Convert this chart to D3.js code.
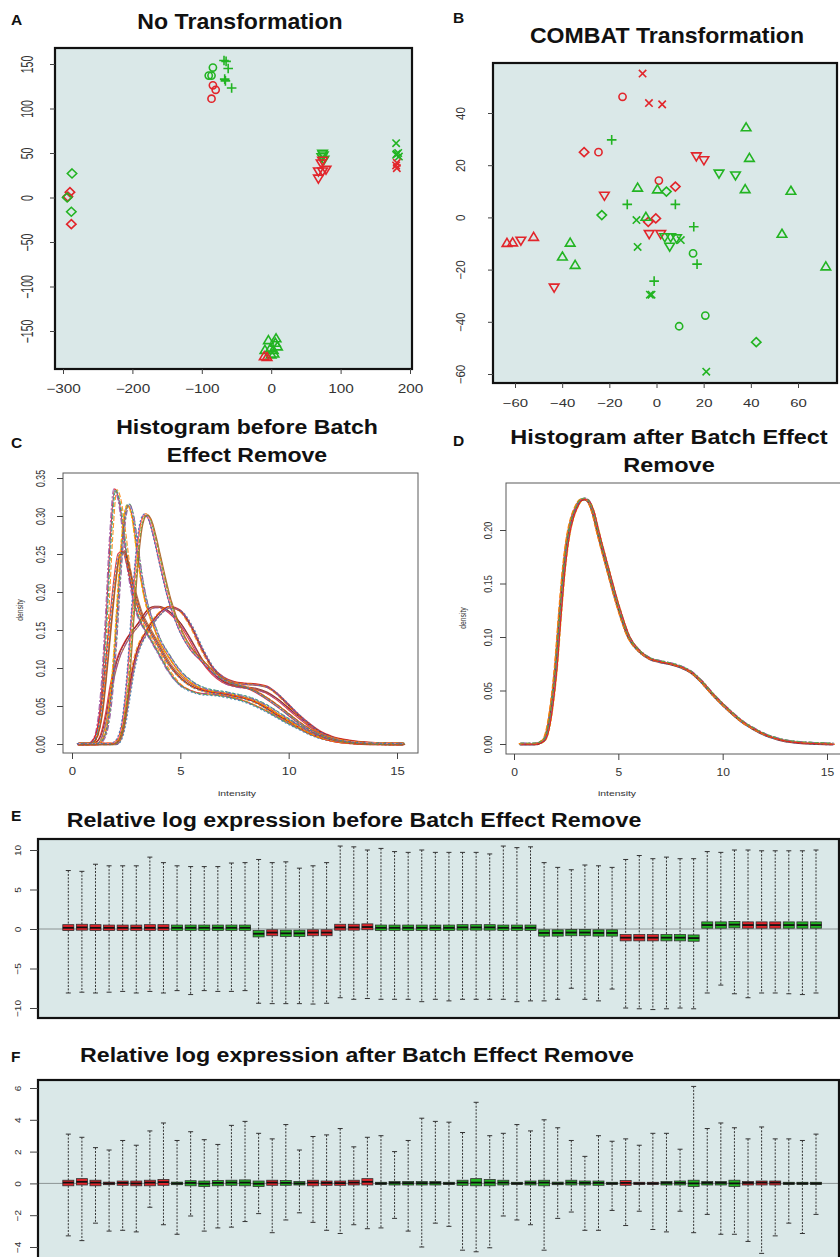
<!DOCTYPE html>
<html lang="en">
<head>
<meta charset="utf-8">
<title>Batch effect removal</title>
<script src="https://cdn.jsdelivr.net/npm/d3@7"></script>
<style>
  body { margin: 0; background: #fff; }
  text { font-family: "Liberation Sans", Arial, sans-serif; }
  .ttl { font-weight: bold; fill: #111; }
  .letter { font-weight: bold; fill: #111; font-size: 15.5px; }
  .lab { fill: #333; }
</style>
</head>
<body>
<svg id="fig" width="840" height="1257"></svg>
<script>
// ---------- data ----------
// A: PCA, no transformation   [x, y, group, shape]
var rawPca = [
  [-287, 27, "g", "diamond"], [-290, 6, "r", "diamond"], [-293, 1, "r", "diamond"],
  [-294, 0, "g", "diamond"], [-288, -16, "g", "diamond"], [-288, -30, "r", "diamond"],
  [-84, 146, "g", "circle"], [-90, 137, "g", "circle"], [-86, 137, "g", "circle"],
  [-84, 126, "r", "circle"], [-80, 121, "r", "circle"], [-86, 111, "r", "circle"],
  [-68, 154, "g", "plus"], [-65, 153, "g", "plus"], [-62, 145, "g", "plus"],
  [-67, 133, "g", "plus"], [-66, 131, "g", "plus"], [-57, 123, "g", "plus"],
  [-4, -160, "g", "up"], [7, -158, "g", "up"], [9, -167, "g", "up"], [-1, -169, "g", "up"],
  [3, -171, "g", "up"], [-9, -171, "g", "up"], [0, -176, "g", "up"], [6, -163, "g", "up"],
  [4, -175, "g", "up"], [-10, -178, "r", "up"], [-6, -179, "r", "up"],
  [74, 49, "g", "down"], [75, 47, "g", "down"], [73, 45, "g", "down"], [76, 42, "g", "down"],
  [74, 41, "r", "down"], [72, 38, "r", "down"], [68, 21, "r", "down"], [68, 29, "r", "down"],
  [74, 29, "r", "down"], [79, 31, "r", "down"],
  [180, 61, "g", "cross"], [183, 50, "g", "cross"], [180, 48, "g", "cross"], [184, 46, "g", "cross"],
  [181, 49, "g", "cross"], [181, 39, "r", "cross"], [180, 36, "r", "cross"], [181, 33, "r", "cross"]
];

// B: PCA after COMBAT
var combatPca = [
  [-5.9, 55.1, "r", "cross"], [-14.4, 46.2, "r", "circle"], [-3.2, 43.8, "r", "cross"],
  [2.4, 43.3, "r", "cross"], [-30.7, 25, "r", "diamond"], [-24.6, 25, "r", "circle"],
  [16.9, 23.3, "r", "down"], [20.1, 21.8, "r", "down"], [1, 14.1, "r", "circle"],
  [8, 11.8, "r", "diamond"], [-22.1, 8.2, "r", "down"], [-0.3, -0.4, "r", "diamond"],
  [-3.5, -1.7, "r", "diamond"], [-3.1, -6.5, "r", "down"], [1.8, -6.5, "r", "down"],
  [-63.4, -9.7, "r", "up"], [-61, -9.5, "r", "up"], [-57.5, -9, "r", "down"],
  [-52.1, -7.4, "r", "up"], [-43.4, -27, "r", "down"],
  [-19, 29.7, "g", "plus"], [38, 34.6, "g", "up"], [39.4, 22.9, "g", "up"],
  [26.5, 16.7, "g", "down"], [33.5, 16, "g", "down"], [37.6, 10.9, "g", "up"],
  [57, 10.3, "g", "up"], [-8, 11.5, "g", "up"], [0.4, 10.8, "g", "up"], [4.2, 9.9, "g", "diamond"],
  [-12.4, 5, "g", "plus"], [8, 5, "g", "plus"], [-23.2, 0.9, "g", "diamond"],
  [-8.5, -1, "g", "cross"], [-4.5, 0.3, "g", "up"], [15.8, -3.6, "g", "plus"],
  [53.2, -6.2, "g", "up"], [3.5, -7.7, "g", "down"], [6, -7.7, "g", "down"],
  [8.5, -8.1, "g", "down"], [5.6, -11.3, "g", "down"], [10.3, -8.7, "g", "cross"],
  [-36.6, -9.6, "g", "up"], [-39.9, -14.9, "g", "up"], [-34.5, -18.1, "g", "up"],
  [-8, -11.3, "g", "cross"], [15.5, -13.8, "g", "circle"], [17.2, -17.9, "g", "plus"],
  [71.8, -18.7, "g", "up"], [-1, -24.4, "g", "plus"], [-2.8, -29.6, "g", "cross"],
  [-2.1, -29.6, "g", "cross"], [20.7, -37.6, "g", "circle"], [9.6, -41.7, "g", "circle"],
  [42.3, -47.8, "g", "diamond"], [21.1, -59.1, "g", "cross"]
];

// C: densities before batch removal (sample bundles)
var intensityC = [0.3, 0.8, 1.0, 1.2, 1.4, 1.6, 1.8, 2.0, 2.2, 2.4, 2.6, 2.8, 3.0, 3.2, 3.4, 3.6, 3.8,
  4.0, 4.5, 5.0, 5.5, 6.0, 6.5, 7.0, 7.5, 8.0, 8.5, 9.0, 9.5, 10.0, 10.5, 11.0, 11.5, 12.0, 13.0, 14.0, 15.3];
var densBefore1 = [0, 0, 0.004, 0.02, 0.07, 0.16, 0.27, 0.335, 0.32, 0.28, 0.235, 0.2, 0.175, 0.16, 0.15, 0.14, 0.13,
  0.12, 0.095, 0.078, 0.07, 0.066, 0.065, 0.063, 0.06, 0.056, 0.05, 0.043, 0.035, 0.027, 0.02, 0.013, 0.008, 0.005, 0.0015, 0.0004, 0];
var densBefore2 = [0, 0, 0, 0, 0.005, 0.02, 0.06, 0.13, 0.22, 0.29, 0.315, 0.3, 0.26, 0.22, 0.19, 0.17, 0.155,
  0.14, 0.115, 0.095, 0.082, 0.074, 0.07, 0.068, 0.065, 0.062, 0.057, 0.05, 0.041, 0.032, 0.023, 0.015, 0.009, 0.005, 0.0015, 0.0004, 0];
var densBefore3 = [0, 0, 0.003, 0.015, 0.045, 0.1, 0.16, 0.215, 0.25, 0.253, 0.235, 0.21, 0.19, 0.172, 0.16, 0.15, 0.14,
  0.13, 0.105, 0.088, 0.077, 0.071, 0.068, 0.066, 0.063, 0.06, 0.055, 0.047, 0.038, 0.03, 0.022, 0.014, 0.009, 0.005, 0.0015, 0.0004, 0];
var densBefore4 = [0, 0, 0, 0, 0, 0, 0, 0.002, 0.01, 0.035, 0.09, 0.17, 0.245, 0.29, 0.302, 0.295, 0.275,
  0.25, 0.19, 0.15, 0.125, 0.11, 0.095, 0.085, 0.079, 0.075, 0.069, 0.06, 0.05, 0.039, 0.028, 0.019, 0.012, 0.007, 0.002, 0.0005, 0];
var densBefore5 = [0, 0, 0, 0.003, 0.015, 0.04, 0.075, 0.1, 0.118, 0.13, 0.14, 0.148, 0.155, 0.163, 0.172, 0.178, 0.18,
  0.18, 0.173, 0.158, 0.135, 0.11, 0.092, 0.081, 0.076, 0.074, 0.072, 0.067, 0.058, 0.046, 0.034, 0.023, 0.014, 0.008, 0.0025, 0.0006, 0];
var densBefore6 = [0, 0, 0, 0, 0, 0, 0, 0, 0.005, 0.025, 0.06, 0.095, 0.12, 0.135, 0.145, 0.155, 0.163,
  0.17, 0.18, 0.175, 0.155, 0.125, 0.1, 0.087, 0.081, 0.079, 0.078, 0.075, 0.065, 0.051, 0.037, 0.025, 0.015, 0.009, 0.003, 0.0007, 0];

// D: density after batch removal
var intensityD = [0.3, 1.0, 1.4, 1.6, 1.8, 2.0, 2.2, 2.4, 2.6, 2.8, 3.0, 3.2, 3.4, 3.6, 3.8, 4.0, 4.5, 5.0, 5.5,
  6.0, 6.5, 7.0, 7.5, 8.0, 8.5, 9.0, 9.5, 10.0, 10.5, 11.0, 11.5, 12.0, 13.0, 14.0, 15.3];
var densAfter = [0, 0, 0.003, 0.012, 0.035, 0.07, 0.12, 0.165, 0.195, 0.212, 0.222, 0.228, 0.229, 0.226, 0.216, 0.2,
  0.163, 0.128, 0.1, 0.087, 0.08, 0.077, 0.075, 0.072, 0.067, 0.058, 0.047, 0.037, 0.028, 0.02, 0.014, 0.009, 0.003, 0.001, 0];

var sampleColors = ["#e41a1c", "#ff7f00", "#4daf4a", "#377eb8", "#984ea3", "#a65628", "#e6c200", "#f781bf", "#8b1a1a"];
var sampleDash = ["", "5,2", "4,2", "2,2", "6,2,2,2", "", "3,2", "4,3", ""];

// E / F: RLE boxes  [lower whisker, q1, median, q3, upper whisker]
var rleBefore = [
  [-8.1, -0.2, 0.15, 0.55, 7.4], [-8.0, -0.15, 0.2, 0.6, 7.3], [-8.1, -0.2, 0.15, 0.55, 8.2], [-8.0, -0.2, 0.15, 0.5, 8.0],
  [-7.9, -0.2, 0.15, 0.5, 8.0], [-8.1, -0.2, 0.15, 0.5, 8.0], [-7.9, -0.2, 0.15, 0.55, 9.1], [-8.1, -0.2, 0.15, 0.55, 8.4],
  [-7.8, -0.2, 0.15, 0.5, 8.0], [-8.3, -0.2, 0.15, 0.5, 7.9], [-7.8, -0.2, 0.15, 0.5, 7.9], [-7.9, -0.2, 0.15, 0.5, 7.9],
  [-7.9, -0.2, 0.15, 0.5, 8.35], [-7.8, -0.2, 0.15, 0.5, 8.4],
  [-9.4, -1.0, -0.6, -0.2, 8.8], [-9.45, -0.85, -0.45, -0.1, 8.4], [-9.45, -0.95, -0.55, -0.15, 8.5],
  [-9.45, -0.95, -0.55, -0.15, 7.7], [-9.5, -0.85, -0.45, -0.1, 8.0], [-9.4, -0.85, -0.45, -0.1, 8.4],
  [-8.7, -0.15, 0.2, 0.6, 10.5], [-8.9, -0.15, 0.2, 0.6, 10.4], [-8.8, -0.1, 0.25, 0.65, 10.0], [-8.9, -0.2, 0.15, 0.5, 10.2],
  [-8.9, -0.2, 0.15, 0.5, 9.8], [-8.9, -0.2, 0.15, 0.5, 9.7], [-9.2, -0.2, 0.15, 0.5, 10.0], [-8.9, -0.2, 0.15, 0.5, 9.7],
  [-9.1, -0.2, 0.15, 0.5, 9.7], [-8.9, -0.15, 0.2, 0.55, 9.7], [-8.9, -0.15, 0.2, 0.55, 9.7], [-8.9, -0.15, 0.2, 0.55, 9.5],
  [-8.9, -0.2, 0.15, 0.5, 10.5], [-9.2, -0.2, 0.15, 0.5, 10.3], [-9.1, -0.2, 0.15, 0.5, 10.4],
  [-9.1, -0.9, -0.5, -0.1, 8.4], [-8.9, -0.9, -0.5, -0.1, 7.8], [-7.5, -0.85, -0.45, -0.05, 7.5],
  [-8.9, -0.85, -0.45, -0.05, 8.1], [-9.1, -0.9, -0.5, -0.1, 8.0], [-7.6, -0.9, -0.5, -0.1, 7.8],
  [-10.0, -1.5, -1.1, -0.7, 8.8], [-10.1, -1.5, -1.1, -0.7, 9.3], [-10.2, -1.5, -1.1, -0.7, 8.9],
  [-10.1, -1.5, -1.1, -0.7, 9.1], [-10.0, -1.5, -1.1, -0.7, 8.9], [-10.1, -1.55, -1.15, -0.75, 8.9],
  [-8.1, 0.1, 0.5, 0.9, 9.8], [-7.1, 0.1, 0.5, 0.9, 9.7], [-8.2, 0.15, 0.55, 0.95, 10.0], [-8.7, 0.1, 0.5, 0.9, 10.0],
  [-8.1, 0.1, 0.5, 0.9, 9.9], [-8.1, 0.1, 0.5, 0.9, 9.9], [-8.2, 0.1, 0.5, 0.9, 9.9], [-8.3, 0.1, 0.5, 0.9, 9.9],
  [-8.1, 0.1, 0.5, 0.9, 10.0]
];
var rleAfter = [
  [-3.3, -0.15, 0.05, 0.2, 3.1], [-3.6, -0.1, 0.1, 0.3, 2.9], [-2.5, -0.15, 0.05, 0.2, 2.25], [-3.0, -0.08, 0.0, 0.08, 2.1],
  [-2.95, -0.12, 0.03, 0.15, 2.7], [-3.05, -0.15, 0.0, 0.15, 2.4], [-1.5, -0.15, 0.05, 0.2, 3.3], [-2.6, -0.12, 0.08, 0.25, 3.8],
  [-3.2, -0.08, 0.0, 0.08, 2.7], [-2.05, -0.15, 0.03, 0.17, 3.25], [-3.0, -0.2, -0.02, 0.15, 2.75], [-2.8, -0.15, 0.03, 0.18, 2.45],
  [-2.75, -0.12, 0.05, 0.2, 3.65], [-2.4, -0.15, 0.05, 0.22, 3.9], [-1.9, -0.2, -0.02, 0.15, 3.15], [-3.1, -0.12, 0.05, 0.2, 2.8],
  [-2.3, -0.12, 0.03, 0.18, 3.7], [-1.85, -0.1, 0.0, 0.12, 2.1], [-2.45, -0.15, 0.05, 0.2, 2.95], [-2.95, -0.12, 0.03, 0.15, 3.05],
  [-3.15, -0.12, 0.02, 0.15, 3.45], [-2.6, -0.1, 0.05, 0.2, 2.3], [-2.85, -0.1, 0.1, 0.3, 2.9], [-2.8, -0.07, 0.0, 0.07, 3.0],
  [-2.2, -0.1, 0.03, 0.12, 2.0], [-3.0, -0.1, 0.02, 0.12, 2.7],
  [-4.0, -0.1, 0.02, 0.12, 4.1], [-2.5, -0.1, 0.03, 0.12, 3.9], [-2.7, -0.07, 0.0, 0.07, 3.85], [-4.2, -0.12, 0.05, 0.2, 3.2],
  [-4.3, -0.15, 0.05, 0.3, 5.1], [-4.05, -0.15, 0.05, 0.25, 3.0], [-2.05, -0.1, 0.05, 0.2, 3.15], [-2.3, -0.07, 0.0, 0.07, 3.7],
  [-2.6, -0.1, 0.03, 0.15, 3.3], [-4.2, -0.15, 0.05, 0.2, 4.0], [-2.2, -0.08, 0.0, 0.08, 3.5], [-1.8, -0.1, 0.05, 0.2, 2.7],
  [-2.95, -0.1, 0.03, 0.15, 1.7], [-2.95, -0.12, 0.03, 0.15, 3.0], [-1.7, -0.07, 0.0, 0.07, 2.65], [-2.65, -0.12, 0.03, 0.18, 2.8],
  [-1.75, -0.07, 0.0, 0.07, 2.4], [-2.9, -0.07, 0.0, 0.07, 3.15], [-3.05, -0.1, 0.03, 0.12, 3.15], [-1.75, -0.1, 0.03, 0.15, 2.15],
  [-3.1, -0.2, 0.0, 0.2, 6.1], [-1.95, -0.1, 0.03, 0.12, 3.45], [-3.2, -0.1, 0.03, 0.12, 3.8], [-3.2, -0.2, 0.0, 0.2, 3.5],
  [-3.65, -0.1, 0.03, 0.12, 2.8], [-4.4, -0.1, 0.05, 0.15, 3.55], [-3.3, -0.1, 0.05, 0.15, 2.8], [-2.5, -0.07, 0.0, 0.07, 2.8],
  [-3.15, -0.07, 0.0, 0.07, 2.7], [-1.95, -0.07, 0.0, 0.07, 3.1]
];
// sample group of each array (r = red, g = green), same order in E and F
var sampleGroup = ("rrrrrrrr" + "gggggg" + "grggrr" + "rrr" + "gggggggggggg" +
  "gggggg" + "rrrggg" + "gggrrrggg").split("");

var ticksA = { x: [-300, -200, -100, 0, 100, 200], y: [-150, -100, -50, 0, 50, 100, 150] };
var ticksB = { x: [-60, -40, -20, 0, 20, 40, 60], y: [-60, -40, -20, 0, 20, 40] };
var ticksC = { x: [0, 5, 10, 15], y: [0, 0.05, 0.1, 0.15, 0.2, 0.25, 0.3, 0.35] };
var ticksD = { x: [0, 5, 10, 15], y: [0, 0.05, 0.1, 0.15, 0.2] };
var ticksE = [-10, -5, 0, 5, 10];
var ticksF = [-4, -2, 0, 2, 4, 6];

// ---------- drawing ----------
var RED = "#e2252b", GREEN = "#22b422", BG = "#dae8e8";
var svg = d3.select("#fig");
var clipId = 0;

var shapePath = {
  circle: "M-3.6,0a3.6,3.6 0 1,0 7.2,0a3.6,3.6 0 1,0 -7.2,0",
  up: "M0,-4.3L4.8,3.7L-4.8,3.7Z",
  down: "M0,4.3L4.8,-3.7L-4.8,-3.7Z",
  diamond: "M0,-4.5L4.7,0L0,4.5L-4.7,0Z",
  plus: "M-4.8,0H4.8M0,-4.8V4.8",
  cross: "M-3.7,-3.7L3.7,3.7M-3.7,3.7L3.7,-3.7"
};

function addText(t, x, y, size, sx, cls, rot) {
  svg.append("text").attr("class", cls || "ttl")
    .attr("transform", "translate(" + x + "," + y + ") scale(" + sx + ",1)" + (rot ? " rotate(-90)" : ""))
    .attr("text-anchor", "middle").attr("font-size", size).text(t);
}
function letter(t, x, y) {
  svg.append("text").attr("class", "letter").attr("x", x).attr("y", y).text(t);
}

function makeClip(f) {
  var id = "clip" + (clipId++);
  svg.append("clipPath").attr("id", id).append("rect")
    .attr("x", f.l).attr("y", f.t).attr("width", f.r - f.l).attr("height", f.b - f.t);
  return "url(#" + id + ")";
}

// R-style axes: ticks outward, no domain line, rotated y labels
function axes(f, x, y, xt, yt, st) {
  if (xt) {
    var gx = svg.append("g").attr("transform", "translate(0," + f.b + ")")
      .call(d3.axisBottom(x).tickValues(xt).tickSize(st.tick).tickFormat(st.xfmt || d3.format("")));
    gx.select(".domain").remove();
    gx.selectAll("line").attr("stroke", "#444");
    gx.selectAll("text").attr("y", null).attr("dy", null)
      .attr("transform", "translate(0," + st.xOff + ") scale(" + st.xsx + ",1)")
      .attr("font-size", st.xSize).attr("fill", "#333").attr("font-family", null);
  }
  var gy = svg.append("g").attr("transform", "translate(" + f.l + ",0)")
    .call(d3.axisLeft(y).tickValues(yt).tickSize(st.tick).tickFormat(st.yfmt || d3.format("")));
  gy.select(".domain").remove();
  gy.selectAll("line").attr("stroke", "#444");
  gy.selectAll("text").attr("x", null).attr("dy", null).attr("text-anchor", "middle")
    .attr("transform", "translate(" + st.yOff + ",0) scale(" + st.ysx + ",1) rotate(-90)")
    .attr("font-size", st.ySize).attr("fill", "#333").attr("font-family", null);
}

function frame(f, fill, stroke, w) {
  return svg.append("rect").attr("x", f.l).attr("y", f.t)
    .attr("width", f.r - f.l).attr("height", f.b - f.t)
    .attr("fill", fill).attr("stroke", stroke).attr("stroke-width", w);
}

function scatterPanel(f, x, y, pts, ticks, st) {
  frame(f, BG, "none", 0);
  svg.append("g").attr("clip-path", makeClip(f))
    .selectAll("path").data(pts).enter().append("path")
    .attr("transform", function(d) { return "translate(" + x(d[0]) + "," + y(d[1]) + ")"; })
    .attr("d", function(d) { return shapePath[d[3]]; })
    .attr("fill", "none")
    .attr("stroke", function(d) { return d[2] === "r" ? RED : GREEN; })
    .attr("stroke-width", 1.6);
  frame(f, "none", "#111", 2.2);
  axes(f, x, y, ticks.x, ticks.y, st);
}

// Panel A
var fA = { l: 55, r: 412, t: 48, b: 369 };
var xA = d3.scaleLinear().domain([-300, 200]).range([63, 410]);
var yA = d3.scaleLinear().domain([-150, 150]).range([331, 64]);
scatterPanel(fA, xA, yA, rawPca, ticksA,
  { tick: 5, xOff: 24, xsx: 1.28, xSize: 12, yOff: -22, ysx: 1.5, ySize: 10.5 });
letter("A", 11, 25);
addText("No Transformation", 240, 29, 22, 1.05);

// Panel B
var fB = { l: 493, r: 837, t: 63, b: 383 };
var xB = d3.scaleLinear().domain([-60, 60]).range([515, 798]);
var yB = d3.scaleLinear().domain([-60, 40]).range([374, 113]);
scatterPanel(fB, xB, yB, combatPca, ticksB,
  { tick: 5, xOff: 24, xsx: 1.3, xSize: 11.5, yOff: -28, ysx: 1.05, ySize: 11.5 });
letter("B", 453, 23);
addText("COMBAT Transformation", 667, 43, 22, 1.05);

// density panels
function densityPanel(f, x, y, bundles, ticks, st) {
  frame(f, "#fff", "none", 0);
  var g = svg.append("g").attr("clip-path", makeClip(f));
  var line = d3.line().curve(d3.curveMonotoneX);
  var nudge = [[-1.2, 0], [1.2, 0.3], [0, -1], [0.7, 0.8], [-0.7, -0.5], [1.6, 0.4],
    [-1.6, -0.4], [0.3, 0.4], [-0.3, 1], [0.9, -0.7], [-1, 0.6]];
  bundles.forEach(function(b, bi) {
    b.cols.forEach(function(c, k) {
      var pts = b.xs.map(function(v, i) { return [x(v), y(b.ys[i])]; });
      var n = nudge[(k + bi * 2) % nudge.length];
      g.append("path").attr("d", line(pts))
        .attr("transform", "translate(" + n[0] + "," + n[1] + ")")
        .attr("fill", "none").attr("stroke", sampleColors[c])
        .attr("stroke-dasharray", sampleDash[c]).attr("stroke-width", 1.1)
        .attr("stroke-opacity", 0.85);
    });
  });
  frame(f, "none", "#5a5a5a", 1);
  axes(f, x, y, ticks.x, ticks.y, st);
}

var fC = { l: 63, r: 418, t: 473, b: 753 };
var xC = d3.scaleLinear().domain([0, 15]).range([72, 397]);
var yC = d3.scaleLinear().domain([0, 0.35]).range([744, 478]);
densityPanel(fC, xC, yC, [
  { xs: intensityC, ys: densBefore5, cols: [0, 5, 8, 4] },
  { xs: intensityC, ys: densBefore6, cols: [0, 5, 8, 3, 1, 4] },
  { xs: intensityC, ys: densBefore1, cols: [0, 1, 4, 2, 3] },
  { xs: intensityC, ys: densBefore3, cols: [0, 8, 1, 5, 3] },
  { xs: intensityC, ys: densBefore2, cols: [0, 2, 1, 6, 4, 3] },
  { xs: intensityC, ys: densBefore4, cols: [0, 4, 6, 1, 2, 7, 5, 3] }
], ticksC, { tick: 6, xOff: 22, xsx: 1.2, xSize: 11, yOff: -18, ysx: 1.5, ySize: 8.8,
  yfmt: d3.format(".2f") });
letter("C", 11, 448);
addText("Histogram before Batch", 247, 434, 21, 1.1);
addText("Effect Remove", 247, 462, 21, 1.1);
addText("density", 23, 610, 6.8, 1.4, "lab", true);
addText("intensity", 237, 796, 8, 1.3, "lab");

var fD = { l: 506, r: 846, t: 483, b: 754 };
var xD = d3.scaleLinear().domain([0, 15]).range([514, 827]);
var yD = d3.scaleLinear().domain([0, 0.2]).range([744, 530]);
densityPanel(fD, xD, yD, [
  { xs: intensityD, ys: densAfter, cols: [0, 5, 4, 3, 2, 6, 1, 7, 8, 4, 3, 1, 0, 2] }
], ticksD, { tick: 6, xOff: 22, xsx: 1.05, xSize: 11.5, yOff: -14, ysx: 1.25, ySize: 9,
  yfmt: d3.format(".2f") });
letter("D", 453, 446);
addText("Histogram after Batch Effect", 669, 444, 21, 1.12);
addText("Remove", 669, 472, 21, 1.12);
addText("density", 466, 618, 6.8, 1.4, "lab", true);
addText("intensity", 617, 796, 8, 1.3, "lab");

// RLE panels
function rlePanel(f, x, y, rows, ticks, st) {
  frame(f, BG, "none", 0);
  var g = svg.append("g").attr("clip-path", makeClip(f));
  g.append("line").attr("x1", f.l).attr("x2", f.r).attr("y1", y(0)).attr("y2", y(0))
    .attr("stroke", "#8c9494").attr("stroke-width", 1);
  var bw = 11, cap = 5;
  var box = g.selectAll("g.box").data(rows).enter().append("g").attr("class", "box")
    .attr("transform", function(d, i) { return "translate(" + x(i + 1) + ",0)"; });
  box.append("line").attr("y1", function(d) { return y(d[4]); }).attr("y2", function(d) { return y(d[3]); })
    .attr("stroke", "#333").attr("stroke-width", 1).attr("stroke-dasharray", "2,1.4");
  box.append("line").attr("y1", function(d) { return y(d[1]); }).attr("y2", function(d) { return y(d[0]); })
    .attr("stroke", "#333").attr("stroke-width", 1).attr("stroke-dasharray", "2,1.4");
  box.append("line").attr("x1", -cap / 2).attr("x2", cap / 2)
    .attr("y1", function(d) { return y(d[4]); }).attr("y2", function(d) { return y(d[4]); })
    .attr("stroke", "#333").attr("stroke-width", 1);
  box.append("line").attr("x1", -cap / 2).attr("x2", cap / 2)
    .attr("y1", function(d) { return y(d[0]); }).attr("y2", function(d) { return y(d[0]); })
    .attr("stroke", "#333").attr("stroke-width", 1);
  box.append("rect").attr("x", -bw / 2).attr("width", bw)
    .attr("y", function(d) { return y(d[3]); })
    .attr("height", function(d) { return y(d[1]) - y(d[3]); })
    .attr("fill", function(d, i) { return sampleGroup[i] === "r" ? RED : GREEN; })
    .attr("stroke", "#333").attr("stroke-width", 0.8);
  box.append("line").attr("x1", -bw / 2).attr("x2", bw / 2)
    .attr("y1", function(d) { return y(d[2]); }).attr("y2", function(d) { return y(d[2]); })
    .attr("stroke", "#111").attr("stroke-width", 1.8);
  frame(f, "none", "#111", 2.2);
  axes(f, x, y, null, ticks, st);
}

var fE = { l: 38, r: 839, t: 839, b: 1018 };
var xE = d3.scaleLinear().domain([1, 56]).range([68.3, 816]);
var yE = d3.scaleLinear().domain([-10, 10]).range([1008, 850]);
rlePanel(fE, xE, yE, rleBefore, ticksE, { tick: 8, yOff: -17, ysx: 0.95, ySize: 10 });
letter("E", 11, 821);
addText("Relative log expression before Batch Effect Remove", 354, 827, 20, 1.16);

var fF = { l: 38, r: 839, t: 1080, b: 1268 };
var xF = d3.scaleLinear().domain([1, 56]).range([68.3, 816]);
var yF = d3.scaleLinear().domain([-4, 6]).range([1247, 1088]);
rlePanel(fF, xF, yF, rleAfter, ticksF, { tick: 8, yOff: -17, ysx: 0.95, ySize: 10 });
letter("F", 11, 1062);
addText("Relative log expression after Batch Effect Remove", 357, 1062, 20, 1.16);
</script>
</body>
</html>
